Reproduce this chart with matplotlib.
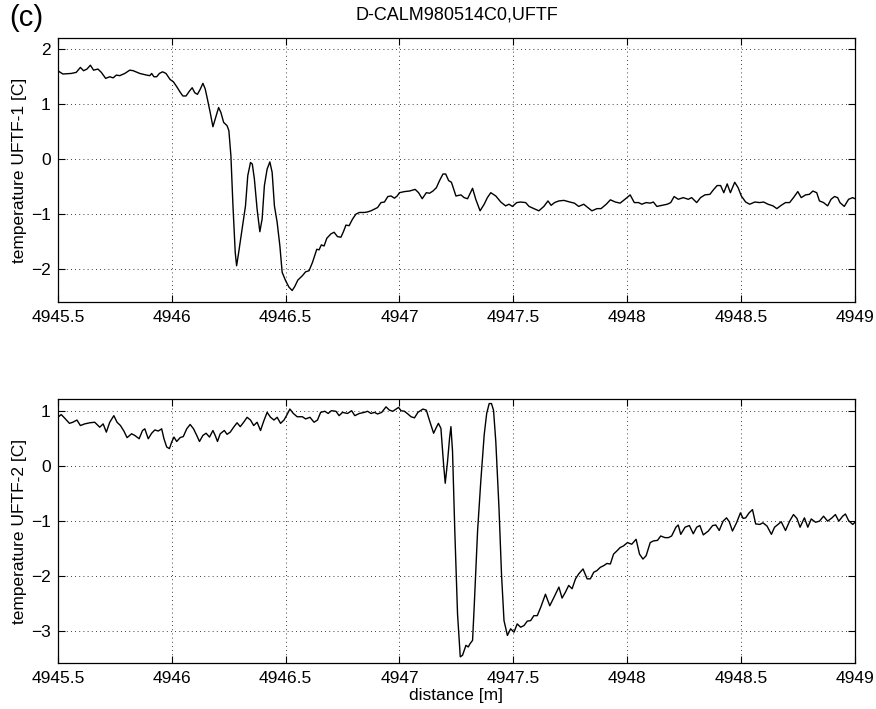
import numpy as np
import matplotlib.pyplot as plt

# distances are stored as offsets from the start of the window
x0 = 4945.5

# UFTF-1 trace (upper panel)
d1 = [0.000, 0.022, 0.059, 0.081, 0.099, 0.113, 0.128, 0.143, 0.157, 0.176,
      0.191, 0.210, 0.228, 0.243, 0.257, 0.272, 0.294, 0.316, 0.331, 0.360,
      0.390, 0.404, 0.412, 0.422, 0.434, 0.446, 0.460, 0.475, 0.493, 0.507,
      0.522, 0.537, 0.549, 0.563, 0.578, 0.590, 0.601, 0.613, 0.625, 0.637,
      0.647, 0.657, 0.669, 0.681, 0.693, 0.706, 0.716, 0.728, 0.743, 0.751,
      0.760, 0.769, 0.779, 0.785, 0.794, 0.809, 0.824, 0.834, 0.846, 0.854,
      0.863, 0.875, 0.887, 0.897, 0.907, 0.919, 0.931, 0.941, 0.951, 0.963,
      0.975, 0.985, 1.000, 1.015, 1.029, 1.040, 1.054, 1.074, 1.088, 1.103,
      1.118, 1.137, 1.147, 1.157, 1.169, 1.181, 1.199, 1.213, 1.228, 1.243,
      1.254, 1.265, 1.279, 1.294, 1.309, 1.324, 1.346, 1.360, 1.375, 1.390,
      1.404, 1.419, 1.434, 1.449, 1.463, 1.478, 1.490, 1.500, 1.522, 1.544,
      1.569, 1.584, 1.600, 1.618, 1.632, 1.647, 1.662, 1.676, 1.691, 1.703,
      1.716, 1.728,
      1.733, 1.748, 1.770, 1.784, 1.799, 1.821, 1.835, 1.854, 1.872, 1.886,
      1.901, 1.923, 1.945, 1.966, 1.981, 1.996, 2.015, 2.032, 2.054, 2.069,
      2.090, 2.112, 2.134, 2.152, 2.166, 2.181, 2.200, 2.222, 2.248, 2.268,
      2.287, 2.309, 2.327, 2.345, 2.367, 2.385, 2.408, 2.426, 2.448, 2.469,
      2.499, 2.513, 2.531, 2.550, 2.564, 2.583, 2.601, 2.615, 2.630, 2.652,
      2.676, 2.691, 2.706, 2.724, 2.746, 2.768, 2.783, 2.805, 2.822, 2.841,
      2.863, 2.880, 2.895, 2.910, 2.924, 2.939, 2.953, 2.972, 2.987, 3.001,
      3.020, 3.038, 3.060, 3.082, 3.099, 3.118, 3.140, 3.157, 3.176, 3.195,
      3.213, 3.230, 3.249, 3.264, 3.283, 3.300, 3.315, 3.332, 3.344, 3.362,
      3.380, 3.395, 3.410, 3.424, 3.434, 3.453, 3.472, 3.490, 3.500]
t1 = [1.61, 1.55, 1.56, 1.58, 1.67, 1.61, 1.64, 1.71, 1.62, 1.64,
      1.58, 1.47, 1.50, 1.48, 1.53, 1.52, 1.56, 1.62, 1.61, 1.56,
      1.53, 1.52, 1.56, 1.50, 1.50, 1.56, 1.59, 1.56, 1.45, 1.41,
      1.32, 1.22, 1.15, 1.15, 1.24, 1.30, 1.21, 1.18, 1.27, 1.38,
      1.28, 1.09, 0.85, 0.59, 0.76, 0.94, 0.85, 0.67, 0.61, 0.52,
      0.06, -0.85, -1.70, -1.94, -1.70, -1.27, -0.85, -0.30, -0.06, -0.09,
      -0.36, -0.91, -1.32, -1.09, -0.48, -0.18, -0.05, -0.24, -0.85, -1.15,
      -1.58, -2.06, -2.21, -2.33, -2.39, -2.32, -2.20, -2.12, -2.05, -2.03,
      -1.88, -1.64, -1.65, -1.56, -1.58, -1.44, -1.36, -1.33, -1.41, -1.42,
      -1.32, -1.20, -1.21, -1.09, -1.00, -0.97, -0.97, -0.96, -0.94, -0.91,
      -0.88, -0.79, -0.78, -0.68, -0.67, -0.71, -0.67, -0.61, -0.59, -0.58,
      -0.55, -0.61, -0.72, -0.61, -0.62, -0.58, -0.52, -0.39, -0.27, -0.27,
      -0.39, -0.42,
      -0.48, -0.67, -0.65, -0.70, -0.72, -0.53, -0.73, -0.94, -0.82, -0.70,
      -0.61, -0.67, -0.78, -0.85, -0.82, -0.86, -0.79, -0.78, -0.79, -0.86,
      -0.90, -0.94, -0.86, -0.76, -0.84, -0.79, -0.76, -0.75, -0.78, -0.80,
      -0.86, -0.82, -0.88, -0.94, -0.90, -0.90, -0.82, -0.74, -0.78, -0.80,
      -0.70, -0.65, -0.79, -0.79, -0.82, -0.79, -0.80, -0.78, -0.86, -0.84,
      -0.82, -0.79, -0.68, -0.73, -0.70, -0.73, -0.70, -0.79, -0.70, -0.65,
      -0.64, -0.55, -0.48, -0.48, -0.61, -0.45, -0.61, -0.42, -0.52, -0.67,
      -0.78, -0.82, -0.78, -0.79, -0.78, -0.82, -0.85, -0.90, -0.84, -0.79,
      -0.79, -0.70, -0.59, -0.70, -0.65, -0.64, -0.58, -0.61, -0.76, -0.79,
      -0.85, -0.73, -0.68, -0.70, -0.79, -0.86, -0.73, -0.70, -0.72]

# UFTF-2 trace (lower panel)
d2 = [0.000, 0.015, 0.029, 0.051, 0.066, 0.084, 0.099, 0.118, 0.140, 0.162,
      0.184, 0.199, 0.213, 0.228, 0.246, 0.260, 0.275, 0.290, 0.304, 0.324,
      0.338, 0.357, 0.372, 0.382, 0.397, 0.412, 0.426, 0.441, 0.456, 0.466,
      0.478, 0.490, 0.500, 0.510, 0.522, 0.537, 0.551, 0.566, 0.581, 0.596,
      0.610, 0.622, 0.637, 0.651, 0.666, 0.681, 0.691, 0.701, 0.713, 0.731,
      0.743, 0.757, 0.772, 0.787, 0.801, 0.816, 0.831, 0.846, 0.860, 0.875,
      0.890, 0.904, 0.919, 0.934, 0.949, 0.963, 0.978, 0.993, 1.004, 1.019,
      1.034, 1.051, 1.074, 1.088, 1.107, 1.125, 1.140, 1.154, 1.172, 1.187,
      1.201, 1.221, 1.235, 1.250, 1.272, 1.290, 1.304, 1.324, 1.346, 1.360,
      1.375, 1.390, 1.404, 1.422, 1.441, 1.456, 1.471, 1.485, 1.496, 1.507,
      1.522, 1.537, 1.551, 1.566, 1.581, 1.603, 1.618, 1.632,
      1.650, 1.660, 1.671, 1.682, 1.694, 1.701, 1.711, 1.720, 1.726, 1.733,
      1.743, 1.755, 1.767, 1.777, 1.792, 1.802, 1.810, 1.821, 1.828, 1.843,
      1.857, 1.872, 1.883, 1.894, 1.904, 1.913, 1.923, 1.937, 1.948, 1.959,
      1.974, 1.988, 2.003, 2.017, 2.032, 2.047, 2.061, 2.076, 2.090, 2.105,
      2.120, 2.141, 2.160, 2.178, 2.200, 2.214, 2.229, 2.243, 2.258, 2.273,
      2.287, 2.306, 2.324, 2.338, 2.353, 2.367, 2.382, 2.397, 2.411, 2.426,
      2.440, 2.455, 2.469, 2.484, 2.501, 2.520, 2.539, 2.554, 2.569, 2.583,
      2.601, 2.615, 2.633, 2.647, 2.666, 2.681, 2.695, 2.714, 2.724, 2.735,
      2.754, 2.773, 2.790, 2.805, 2.819, 2.834, 2.856, 2.875, 2.889, 2.904,
      2.921, 2.936, 2.948, 2.962, 2.980, 2.997, 3.009, 3.020, 3.035, 3.050,
      3.064, 3.082, 3.096, 3.114, 3.133, 3.147, 3.162, 3.176, 3.195, 3.213,
      3.230, 3.245, 3.259, 3.278, 3.293, 3.308, 3.327, 3.344, 3.362, 3.380,
      3.399, 3.414, 3.429, 3.446, 3.458, 3.472, 3.490, 3.500]
t2 = [0.89, 0.94, 0.88, 0.78, 0.80, 0.84, 0.74, 0.77, 0.79, 0.80,
      0.71, 0.77, 0.62, 0.80, 0.92, 0.80, 0.74, 0.64, 0.52, 0.59,
      0.56, 0.50, 0.65, 0.68, 0.50, 0.60, 0.66, 0.64, 0.68, 0.50,
      0.35, 0.32, 0.44, 0.53, 0.45, 0.52, 0.54, 0.68, 0.76, 0.68,
      0.56, 0.45, 0.56, 0.60, 0.53, 0.65, 0.56, 0.45, 0.59, 0.65,
      0.58, 0.62, 0.71, 0.79, 0.72, 0.80, 0.89, 0.84, 0.74, 0.80,
      0.65, 0.82, 0.98, 0.89, 0.84, 0.89, 0.78, 0.84, 0.92, 1.04,
      0.96, 0.90, 0.90, 0.86, 0.89, 0.80, 0.84, 0.98, 1.00, 0.96,
      1.01, 1.00, 0.92, 0.98, 0.96, 1.01, 0.92, 0.96, 0.98, 1.00,
      0.96, 0.98, 0.95, 0.98, 1.08, 1.02, 1.00, 1.04, 1.07, 1.01,
      1.00, 0.95, 0.90, 0.88, 0.98, 1.04, 1.02, 0.83,
      0.60, 0.69, 0.78, 0.69, 0.02, -0.31, 0.08, 0.51, 0.72, 0.27,
      -1.18, -2.69, -3.47, -3.44, -3.26, -3.29, -3.23, -3.17, -2.57, -1.18,
      -0.28, 0.57, 0.96, 1.14, 1.14, 1.02, 0.45, -0.76, -1.96, -2.81,
      -3.08, -2.96, -3.02, -2.87, -2.93, -2.90, -2.82, -2.81, -2.72, -2.72,
      -2.57, -2.33, -2.54, -2.39, -2.20, -2.40, -2.29, -2.17, -2.23, -2.05,
      -1.96, -1.87, -2.05, -2.05, -1.93, -1.90, -1.84, -1.81, -1.77, -1.78,
      -1.60, -1.54, -1.48, -1.45, -1.39, -1.42, -1.33, -1.60, -1.69, -1.63,
      -1.39, -1.36, -1.35, -1.27, -1.30, -1.30, -1.27, -1.11, -1.07, -1.24,
      -1.11, -1.08, -1.23, -1.11, -1.08, -1.25, -1.18, -1.08, -1.07, -1.17,
      -1.00, -0.94, -1.01, -1.18, -1.03, -0.85, -0.95, -0.94, -0.85, -0.79,
      -1.05, -1.06, -1.03, -1.09, -1.24, -1.11, -1.06, -1.01, -1.17, -1.00,
      -0.88, -0.95, -1.11, -0.94, -1.11, -0.96, -1.02, -1.00, -0.91, -1.00,
      -0.94, -0.88, -1.00, -0.91, -0.87, -0.99, -1.06, -1.02]

xticks = [4945.5, 4946, 4946.5, 4947, 4947.5, 4948, 4948.5, 4949]
xticklabels = ['4945.5', '4946', '4946.5', '4947', '4947.5', '4948', '4948.5', '4949']

plt.rcParams['font.family'] = ['Liberation Sans', 'DejaVu Sans']
fs = 12.5

fig = plt.figure(figsize=(8.76, 7.09), dpi=100)
ax1 = fig.add_axes([0.066, 0.574, 0.910, 0.372])
ax2 = fig.add_axes([0.066, 0.065, 0.910, 0.372])

def style(ax, ylim, yticks, ylabel):
	ax.set_xlim(4945.5, 4949)
	ax.set_ylim(*ylim)
	ax.set_xticks(xticks)
	ax.set_xticklabels(xticklabels)
	ax.set_yticks(yticks)
	ax.set_ylabel(ylabel, fontsize=fs, labelpad=3)
	ax.tick_params(direction='in', top=True, right=True, labelsize=fs, length=5, width=0.8)
	ax.tick_params(axis='x', pad=6)
	ax.tick_params(axis='y', pad=5)
	ax.grid(True, color='black', linestyle=(0, (1, 4)), linewidth=0.6)
	for s in ax.spines.values():
		s.set_linewidth(0.9)

ax1.plot(x0 + np.array(d1), t1, color='black', linewidth=1.0)
style(ax1, (-2.6, 2.2), [-2, -1, 0, 1, 2], 'temperature UFTF-1 [C]')

ax2.plot(x0 + np.array(d2), t2, color='black', linewidth=1.0)
style(ax2, (-3.58, 1.22), [-3, -2, -1, 0, 1], 'temperature UFTF-2 [C]')
ax2.set_xlabel('distance [m]', fontsize=fs, labelpad=1)

fig.text(0.521, 0.979, 'D-CALM980514C0,UFTF', ha='center', va='center', fontsize=13)
fig.text(0.011, 0.974, '(c)', ha='left', va='center', fontsize=21)

fig.savefig('out.png', dpi=100)
